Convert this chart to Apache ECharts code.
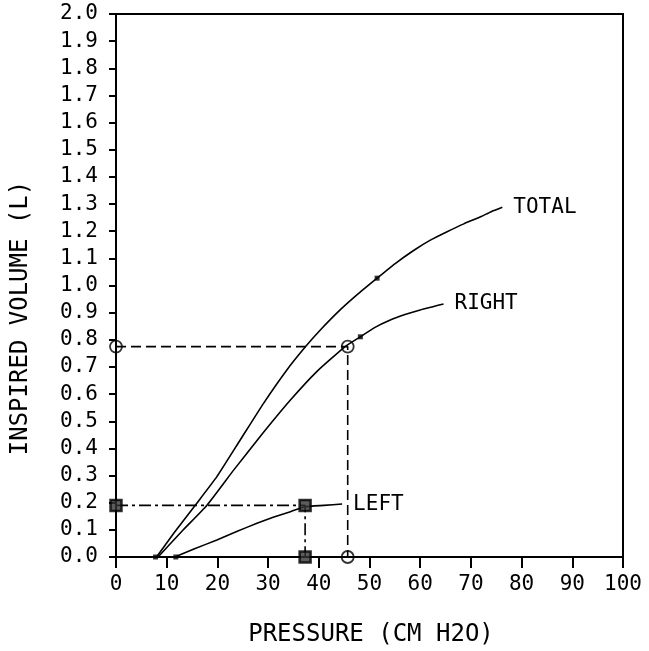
<!DOCTYPE html>
<html>
<head>
<meta charset="utf-8">
<script src="https://cdn.jsdelivr.net/npm/echarts@6/dist/echarts.min.js"></script>
<style>html,body{margin:0;padding:0;background:#fff}#c{width:649px;height:651px}</style>
</head>
<body>
<div id="c"></div>
<script>
const xTitle = 'PRESSURE (CM H2O)';
const yTitle = 'INSPIRED VOLUME (L)';
const totalCurve = [[8.0,0],[11.5,0.09],[15.6,0.19],[19.9,0.296],[24.5,0.431],[29.1,0.566],[33.7,0.689],[37.4,0.775],[40.3,0.836],[44.2,0.91],[47.8,0.97],[51.5,1.027],[55.0,1.08],[58.7,1.129],[62.0,1.167],[65.3,1.198],[68.6,1.227],[71.9,1.253],[74.0,1.272],[76.2,1.288]];
const rightCurve = [[8.3,0],[13.0,0.095],[17.9,0.19],[23.2,0.32],[28.4,0.443],[34.4,0.578],[39.6,0.683],[45.2,0.775],[48.2,0.811],[51.0,0.845],[54.1,0.873],[57.0,0.893],[60.0,0.91],[62.5,0.922],[64.6,0.932]];
const leftCurve = [[11.6,0],[15.5,0.03],[19.9,0.063],[23.8,0.094],[27.8,0.124],[31.0,0.146],[34.4,0.167],[37.3,0.185],[41.0,0.19],[44.6,0.195]];
const curveNames = ['TOTAL','RIGHT','LEFT'];
const dashedPath = [[0,0.775],[45.7,0.775],[45.7,0]];
const dashDotPath = [[0,0.19],[37.3,0.19],[37.3,0]];
const circleMarks = [[0,0.775],[45.7,0.775],[45.7,0]];
const squareMarks = [[0,0.19],[37.3,0.19],[37.3,0]];
const smallDots = [[51.5,1.027],[48.2,0.811],[7.8,0],[11.8,0]];

const FONT = 'DejaVu Sans Mono';
const chart = echarts.init(document.getElementById('c'));
function curve(name, data){
  return {
    name, type:'line', data, showSymbol:false, smooth:0.15, silent:true,
    lineStyle:{color:'#000', width:1.6},
    endLabel:{show:true, formatter:name, distance:11, color:'#000', fontFamily:FONT, fontSize:21},
    z:3
  };
}
chart.setOption({
  animation:false,
  backgroundColor:'#fff',
  grid:{left:116, right:26, top:14, bottom:94, show:true, borderColor:'#000', borderWidth:2},
  xAxis:{type:'value', min:0, max:100, interval:10,
    axisLine:{show:true, onZero:false, lineStyle:{color:'#000', width:2}},
    axisTick:{show:true, inside:false, length:11, lineStyle:{color:'#000', width:2}},
    axisLabel:{color:'#000', fontFamily:FONT, fontSize:21, margin:17},
    splitLine:{show:false}},
  yAxis:{type:'value', min:0, max:2, interval:0.1,
    axisLine:{show:true, onZero:false, lineStyle:{color:'#000', width:2}},
    axisTick:{show:true, inside:false, length:7, lineStyle:{color:'#000', width:2}},
    axisLabel:{color:'#000', fontFamily:FONT, fontSize:21, margin:18, formatter:v=>v.toFixed(1)},
    splitLine:{show:false}},
  graphic:[
    {type:'text', x:371, y:635, style:{text:xTitle, fill:'#000', font:'24px "DejaVu Sans Mono"', align:'center', verticalAlign:'middle'}},
    {type:'text', rotation:Math.PI/2, x:21, y:318, style:{text:yTitle, fill:'#000', font:'24px "DejaVu Sans Mono"', align:'center', verticalAlign:'middle'}}
  ],
  series:[
    curve(curveNames[0], totalCurve),
    curve(curveNames[1], rightCurve),
    curve(curveNames[2], leftCurve),
    {type:'line', data:dashedPath, showSymbol:false, silent:true, lineStyle:{color:'#000', width:1.6, type:[10,5]}, z:2},
    {type:'line', data:dashDotPath, showSymbol:false, silent:true, lineStyle:{color:'#000', width:1.6, type:[12,4,3,4]}, z:2},
    {type:'scatter', data:circleMarks, symbol:'circle', symbolSize:12, silent:true, itemStyle:{color:'rgba(255,255,255,0)', borderColor:'#000', borderWidth:1.8}, z:4},
    {type:'scatter', data:squareMarks, symbol:'rect', symbolSize:11, silent:true, itemStyle:{color:'#333', borderColor:'#000', borderWidth:2.5}, z:4},
    {type:'scatter', data:smallDots, symbol:'rect', symbolSize:5, silent:true, itemStyle:{color:'#000'}, z:4}
  ]
});
</script>
</body>
</html>
